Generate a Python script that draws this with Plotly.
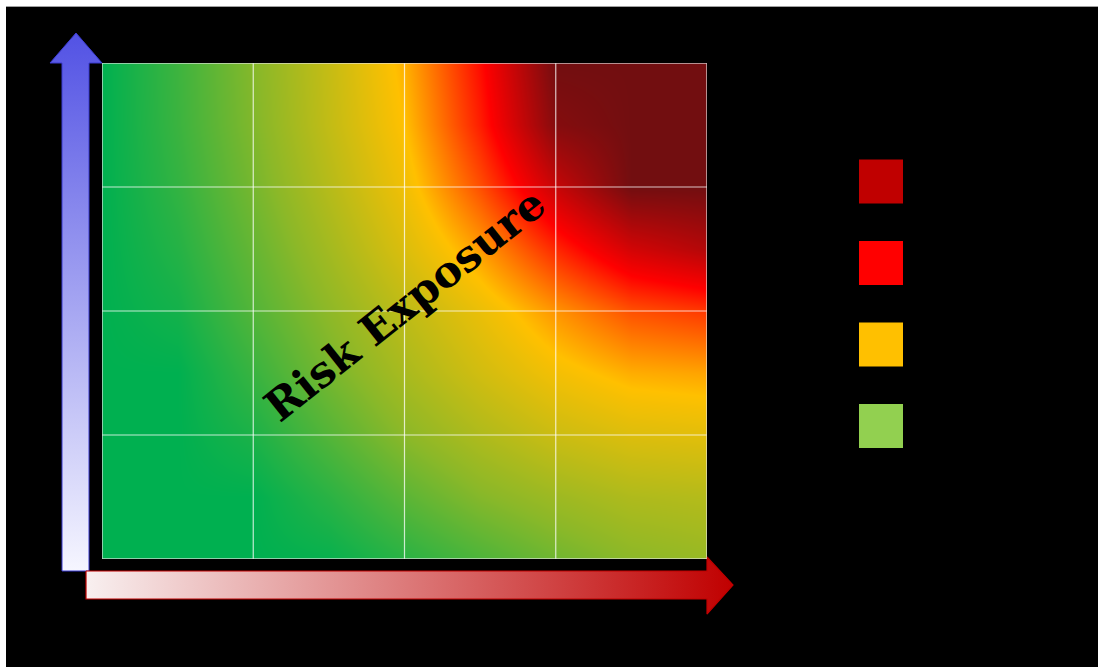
import plotly.graph_objects as go

W, H = 1098, 667

# Exposure level on a half-cell lattice of the 4x4 risk grid
# (0 = low / green ... 4 = extreme / dark red); rows run bottom to top.
grid_x = [0, 0.5, 1, 1.5, 2, 2.5, 3, 3.5, 4]
grid_y = [0, 0.5, 1, 1.5, 2, 2.5, 3, 3.5, 4]
exposure = [
    [0.00, 0.00, 0.00, 0.05, 0.30, 0.55, 0.80, 1.00, 1.10],
    [0.00, 0.00, 0.00, 0.30, 0.65, 0.95, 1.15, 1.30, 1.35],
    [0.00, 0.00, 0.20, 0.60, 1.00, 1.30, 1.55, 1.70, 1.75],
    [0.00, 0.00, 0.40, 0.85, 1.25, 1.60, 1.90, 2.10, 2.15],
    [0.00, 0.14, 0.59, 1.02, 1.44, 1.82, 2.23, 2.58, 2.71],
    [0.00, 0.26, 0.72, 1.20, 1.69, 2.19, 2.80, 3.32, 3.54],
    [0.00, 0.36, 0.84, 1.36, 1.88, 2.59, 3.40, 4.00, 4.00],
    [0.00, 0.42, 0.92, 1.47, 2.01, 2.85, 3.87, 4.00, 4.00],
    [0.00, 0.44, 0.95, 1.50, 2.09, 2.94, 4.00, 4.00, 4.00],
]
level_stops = [0, 1, 2, 3, 4]
level_colors = ["#00b050", "#8cb828", "#ffc000", "#ff0000", "#720e10"]

# Legend swatches, top to bottom
legend_levels = [3, 2, 1, 0]
legend_colors = ["#c00000", "#ff0000", "#ffc000", "#92d050"]

# Axis arrows (pixel outline of each arrow)
up_arrow_x = [62, 89, 89, 102, 76, 50, 62, 62]
up_arrow_y = [571, 571, 63, 63, 33, 63, 63, 571]
right_arrow_x = [86, 707, 707, 733, 707, 707, 86, 86]
right_arrow_y = [571, 571, 557, 585, 614, 599, 599, 571]

fig = go.Figure()

fig.add_trace(go.Heatmap(
    x=grid_x, y=grid_y, z=exposure,
    zmin=0, zmax=4, zsmooth="best",
    colorscale=[[s / 4, c] for s, c in zip(level_stops, level_colors)],
    showscale=False, hoverinfo="skip",
))

fig.add_trace(go.Scatter(
    x=up_arrow_x, y=up_arrow_y, xaxis="x2", yaxis="y2",
    mode="lines", fill="toself", hoverinfo="skip",
    line=dict(color="#3a3ad0", width=1),
    fillgradient=dict(type="vertical", colorscale=[[0, "#f6f6ff"], [1, "#5252e4"]],
                      start=571, stop=33),
))
fig.add_trace(go.Scatter(
    x=right_arrow_x, y=right_arrow_y, xaxis="x2", yaxis="y2",
    mode="lines", fill="toself", hoverinfo="skip",
    line=dict(color="#c00000", width=1.2),
    fillgradient=dict(type="horizontal", colorscale=[[0, "#f8f0f0"], [1, "#c00000"]],
                      start=86, stop=733),
))

fig.add_trace(go.Scatter(
    x=[0] * len(legend_levels), y=legend_levels, xaxis="x3", yaxis="y3",
    mode="markers", hoverinfo="skip",
    marker=dict(symbol="square", size=44, color=legend_colors, line=dict(width=0)),
))

# Grid lines of the risk matrix
shapes = []
for k in [1, 2, 3]:
    shapes.append(dict(type="line", xref="x", yref="y", x0=k, x1=k, y0=0, y1=4,
                       line=dict(color="rgba(255,255,255,0.75)", width=1.2), layer="above"))
    shapes.append(dict(type="line", xref="x", yref="y", x0=0, x1=4, y0=k, y1=k,
                       line=dict(color="rgba(255,255,255,0.75)", width=1.2), layer="above"))
shapes.append(dict(type="rect", xref="x", yref="y", x0=0, x1=4, y0=0, y1=4,
                   line=dict(color="rgba(230,230,230,0.8)", width=1.5), layer="above"))
# Light frame along the top and left edges of the page
shapes.append(dict(type="rect", xref="paper", yref="paper", x0=0, x1=1,
                   y0=1 - 6 / H, y1=1, fillcolor="white", line=dict(width=0)))
shapes.append(dict(type="line", xref="paper", yref="paper", x0=0, x1=1,
                   y0=1 - 6.5 / H, y1=1 - 6.5 / H, line=dict(color="#a0a0a0", width=1)))
shapes.append(dict(type="rect", xref="paper", yref="paper", x0=0, x1=6 / W,
                   y0=0, y1=1, fillcolor="white", line=dict(width=0)))

fig.update_layout(
    width=W, height=H,
    margin=dict(l=0, r=0, t=0, b=0),
    paper_bgcolor="black", plot_bgcolor="rgba(0,0,0,0)",
    showlegend=False,
    shapes=shapes,
    xaxis=dict(domain=[102 / W, 707 / W], range=[0, 4], visible=False, fixedrange=True),
    yaxis=dict(domain=[1 - 559 / H, 1 - 63 / H], range=[0, 4], visible=False, fixedrange=True),
    xaxis2=dict(domain=[0, 1], range=[0, W], visible=False, fixedrange=True, anchor="y2"),
    yaxis2=dict(domain=[0, 1], range=[H, 0], visible=False, fixedrange=True, anchor="x2"),
    xaxis3=dict(domain=[859 / W, 903 / W], range=[-0.5, 0.5], visible=False, anchor="y3"),
    yaxis3=dict(domain=[1 - 466.75 / H, 1 - 140.75 / H], range=[-0.5, 3.5], visible=False, anchor="x3"),
    annotations=[dict(
        x=2.0, y=2.05, xref="x", yref="y", text="<b>Risk Exposure</b>",
        textangle=-38.5, showarrow=False,
        font=dict(family="DejaVu Serif", size=43, color="black"),
    )],
)

fig.write_html("out.html")
